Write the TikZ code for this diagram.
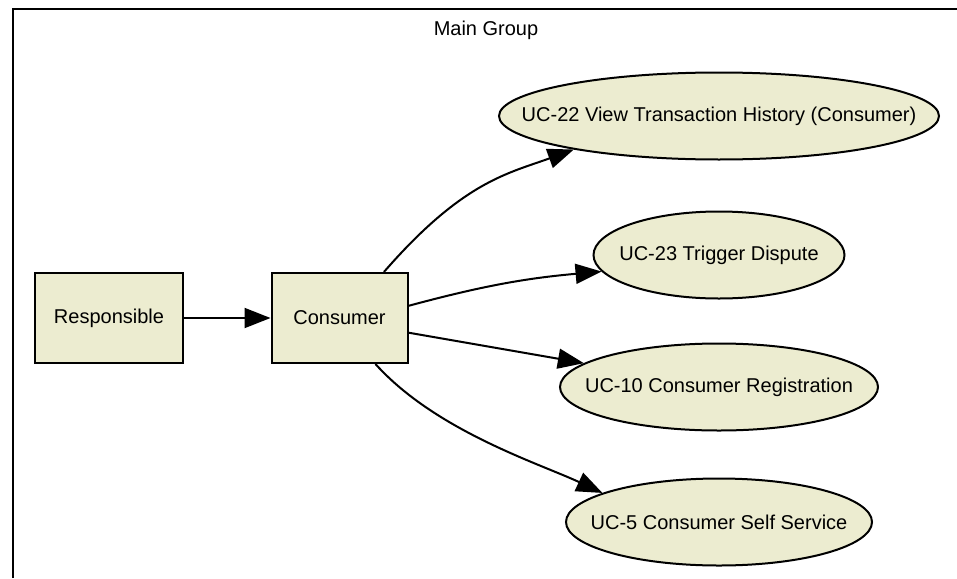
\documentclass[tikz,border=0pt]{standalone}
\usepackage{fontspec}
\setmainfont{Liberation Sans}
\usetikzlibrary{arrows.meta,shapes.geometric}

\definecolor{ucfill}{RGB}{236,236,208}
\newcommand{\ucname}[1]{\makebox[0pt]{#1}}

\begin{document}
\begin{tikzpicture}[x=0.5pt,y=0.5pt,
    actor/.style={rectangle,draw,line width=1pt,fill=ucfill,minimum height=45pt,inner sep=0pt},
    usecase/.style={ellipse,draw,line width=1pt,fill=ucfill,minimum height=43.5pt,inner sep=0pt},
    link/.style={line width=1pt,-{Triangle[length=13pt,width=10pt]}}]
  \useasboundingbox (0,0) rectangle (957,-578);
  \draw[line width=1.1pt] (13,-578) -- (13,-9) -- (957,-9);
  \node (group) at (486,-30) {Main Group};

  \node[actor,minimum width=74pt] (resp) at (109,-318) {Responsible};
  \node[actor,minimum width=68pt] (cons) at (339.5,-318) {Consumer};

  \node[usecase,minimum width=220pt] (uc22) at (719,-116) {\ucname{UC-22 View Transaction History (Consumer)}};
  \node[usecase,minimum width=125.5pt] (uc23) at (719,-255) {\ucname{UC-23 Trigger Dispute}};
  \node[usecase,minimum width=159pt] (uc10) at (719,-387) {\ucname{UC-10 Consumer Registration}};
  \node[usecase,minimum width=153pt] (uc5) at (719,-522) {\ucname{UC-5 Consumer Self Service}};

  \draw[link] (resp) -- (cons);
  \draw[link] (cons.46) .. controls +(49:120) and +(200:70) .. (uc22.193);
  \draw[link] (cons.10) to[bend left=5] (uc23.188);
  \draw[link] (cons.348) -- (uc10.170);
  \draw[link] (cons.308) .. controls +(-48:90) and +(155:70) .. (uc5.166);
\end{tikzpicture}
\end{document}
